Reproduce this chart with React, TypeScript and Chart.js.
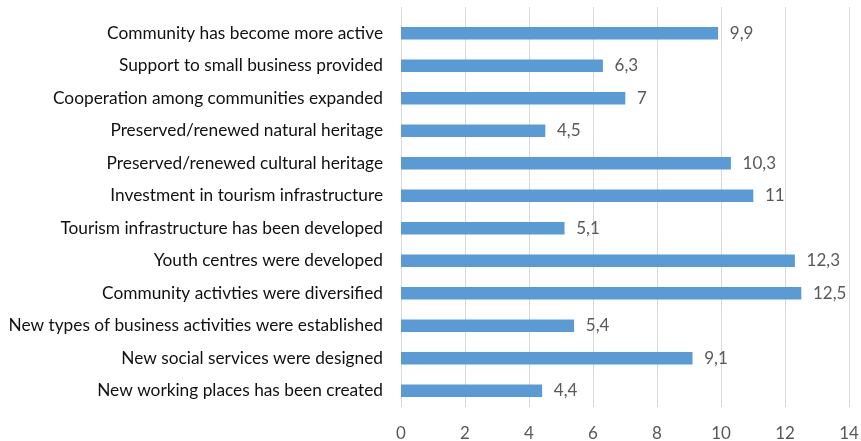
import React, { useEffect, useRef } from "react";
import { Chart, registerables } from "chart.js";

Chart.register(...registerables);

const categories: string[] = [
  "Community has become more active",
  "Support to small business provided",
  "Cooperation among communities expanded",
  "Preserved/renewed natural heritage",
  "Preserved/renewed cultural heritage",
  "Investment in tourism infrastructure",
  "Tourism infrastructure has been developed",
  "Youth centres were developed",
  "Community activties were diversified",
  "New types of business activities were established",
  "New social services were designed",
  "New working places has been created",
];

const values: number[] = [9.9, 6.3, 7, 4.5, 10.3, 11, 5.1, 12.3, 12.5, 5.4, 9.1, 4.4];

const xMin = 0;
const xMax = 14;
const xStep = 2;

const FONT = "Lato, 'Open Sans', sans-serif";

const gridPlugin = {
  id: "extGrid",
  beforeDatasetsDraw(chart: any) {
    const { ctx, chartArea, scales } = chart;
    const xs = scales.x;
    ctx.save();
    ctx.strokeStyle = "#D9D9D9";
    ctx.lineWidth = 1;
    xs.ticks.forEach((t: any) => {
      const px = Math.round(xs.getPixelForValue(t.value)) + 0.5;
      ctx.beginPath();
      ctx.moveTo(px, chartArea.top - 10);
      ctx.lineTo(px, chartArea.bottom);
      ctx.stroke();
    });
    ctx.restore();
  },
};

const labelPlugin = {
  id: "valLabels",
  afterDatasetsDraw(chart: any) {
    const { ctx } = chart;
    const meta = chart.getDatasetMeta(0);
    ctx.save();
    ctx.fillStyle = "#595959";
    ctx.font = `17px ${FONT}`;
    ctx.textAlign = "left";
    ctx.textBaseline = "middle";
    meta.data.forEach((bar: any, i: number) => {
      const txt = String(values[i]).replace(".", ",");
      ctx.fillText(txt, bar.x + 12, bar.y);
    });
    ctx.restore();
  },
};

export default function App() {
  const ref = useRef<HTMLCanvasElement>(null);
  useEffect(() => {
    document.body.style.margin = "0";
    const chart = new Chart(ref.current!, {
      type: "bar",
      data: {
        labels: categories,
        datasets: [
          {
            data: values,
            backgroundColor: "#5B9BD5",
            barThickness: 12,
          },
        ],
      },
      options: {
        indexAxis: "y",
        animation: false,
        responsive: false,
        layout: { padding: { left: 0, right: 12, top: 17, bottom: 0 } },
        plugins: { legend: { display: false }, tooltip: { enabled: false } },
        scales: {
          x: {
            min: xMin,
            max: xMax,
            ticks: {
              stepSize: xStep,
              color: "#595959",
              font: { family: FONT, size: 17 },
              padding: 16,
            },
            grid: { display: false, drawTicks: false },
            border: { display: false },
            afterFit: (s: any) => {
              s.height = 34;
              s.paddingLeft = 0;
              s.paddingRight = 0;
            },
          },
          y: {
            ticks: {
              color: "#111111",
              font: { family: FONT, size: 17.3 },
              padding: 18,
              autoSkip: false,
            },
            grid: { display: false, drawTicks: false },
            border: { display: false },
            afterFit: (s: any) => {
              s.width = 401;
              s.paddingTop = 0;
              s.paddingBottom = 0;
            },
          },
        },
      },
      plugins: [gridPlugin, labelPlugin],
    });
    return () => chart.destroy();
  }, []);
  return (
    <div style={{ width: 861, height: 441 }}>
      <canvas ref={ref} width={861} height={441} style={{ display: "block" }} />
    </div>
  );
}
